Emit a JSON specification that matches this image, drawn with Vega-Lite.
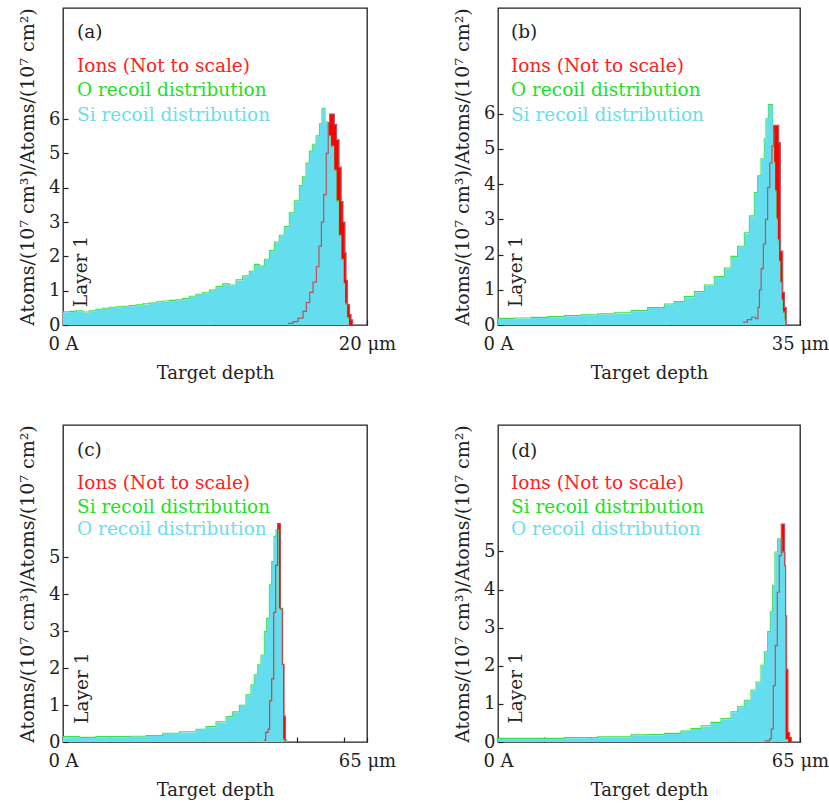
{
  "$schema": "https://vega.github.io/schema/vega-lite/v6.json",
  "background": "white",
  "padding": {"left": 17, "top": 7, "right": 0, "bottom": 0},
  "bounds": "flush",
  "columns": 2,
  "spacing": {"row": 100, "column": 131},
  "config": {
    "font": "DejaVu Serif",
    "view": {"stroke": "#222", "strokeWidth": 1.3},
    "axis": {
      "domain": false, "grid": false, "tickSize": -5, "tickColor": "#222", "tickWidth": 1.2,
      "labelFont": "DejaVu Serif", "titleFont": "DejaVu Serif", "labelFontSize": 18, "titleFontSize": 18,
      "titleFontWeight": "normal", "labelColor": "#222", "titleColor": "#222", "labelFlush": false, "labelOverlap": false
    },
    "axisX": {"labelPadding": 15, "titlePadding": 11},
    "axisY": {"labelPadding": 8, "titlePadding": 11, "labelAngle": 0, "titleFontSize": 19}
  },
  "datasets": {
    "a_rec": [
      {"x":0,"y":0.37},{"x":0.44,"y":0.38},{"x":0.88,"y":0.40},{"x":1.32,"y":0.36},{"x":1.75,"y":0.40},{"x":2.19,"y":0.44},
      {"x":2.63,"y":0.47},{"x":3.07,"y":0.50},{"x":3.51,"y":0.51},{"x":3.95,"y":0.53},{"x":4.39,"y":0.55},{"x":4.82,"y":0.57},
      {"x":5.26,"y":0.60},{"x":5.70,"y":0.62},{"x":6.14,"y":0.66},{"x":6.58,"y":0.68},{"x":7.02,"y":0.70},{"x":7.46,"y":0.72},
      {"x":7.89,"y":0.75},{"x":8.33,"y":0.82},{"x":8.77,"y":0.88},{"x":9.21,"y":0.92},{"x":9.65,"y":1.00},{"x":10.09,"y":1.10},
      {"x":10.53,"y":1.18},{"x":10.96,"y":1.15},{"x":11.40,"y":1.30},{"x":11.84,"y":1.42},{"x":12.28,"y":1.55},{"x":12.61,"y":1.75},
      {"x":12.94,"y":1.70},{"x":13.27,"y":1.90},{"x":13.60,"y":2.15},{"x":13.93,"y":2.40},{"x":14.25,"y":2.60},{"x":14.58,"y":2.85},
      {"x":14.91,"y":3.25},{"x":15.24,"y":3.60},{"x":15.57,"y":4.05},{"x":15.79,"y":4.30},{"x":16.01,"y":4.70},{"x":16.23,"y":5.05},
      {"x":16.45,"y":5.25},{"x":16.67,"y":5.50},{"x":16.89,"y":5.85},{"x":17.06,"y":6.30},{"x":17.25,"y":5.90},{"x":17.45,"y":5.50},
      {"x":17.62,"y":5.20},{"x":17.83,"y":4.50},{"x":17.98,"y":3.60},{"x":18.14,"y":2.60},{"x":18.30,"y":1.90},{"x":18.45,"y":1.20},
      {"x":18.55,"y":0.60},{"x":18.68,"y":0.20},{"x":18.80,"y":0}
    ],
    "a_ion": [
      {"x":14.80,"y":0.05},{"x":15.13,"y":0.10},{"x":15.46,"y":0.20},{"x":15.79,"y":0.40},{"x":16.01,"y":0.65},{"x":16.23,"y":0.95},
      {"x":16.45,"y":1.25},{"x":16.67,"y":1.70},{"x":16.84,"y":2.30},{"x":17.00,"y":3.00},{"x":17.15,"y":3.80},{"x":17.32,"y":5.00},
      {"x":17.45,"y":5.90},{"x":17.54,"y":6.15},{"x":17.85,"y":5.85},{"x":18.00,"y":5.40},{"x":18.16,"y":4.60},{"x":18.30,"y":3.60},
      {"x":18.42,"y":3.00},{"x":18.55,"y":2.10},{"x":18.62,"y":1.30},{"x":18.71,"y":0.60},{"x":18.85,"y":0.30},{"x":18.95,"y":0.15},
      {"x":19.06,"y":0}
    ],
    "b_rec": [
      {"x":0,"y":0.17},{"x":1.93,"y":0.18},{"x":3.86,"y":0.20},{"x":5.79,"y":0.22},{"x":7.73,"y":0.25},{"x":9.66,"y":0.27},
      {"x":11.59,"y":0.30},{"x":13.52,"y":0.33},{"x":15.45,"y":0.39},{"x":17.38,"y":0.48},{"x":19.32,"y":0.58},{"x":20.47,"y":0.65},
      {"x":21.63,"y":0.79},{"x":22.79,"y":0.93},{"x":23.95,"y":1.12},{"x":25.11,"y":1.36},{"x":26.27,"y":1.60},{"x":27.04,"y":1.93},
      {"x":27.81,"y":2.22},{"x":28.59,"y":2.60},{"x":29.17,"y":3.08},{"x":29.75,"y":3.74},{"x":30.13,"y":4.22},{"x":30.52,"y":4.70},
      {"x":30.90,"y":5.27},{"x":31.10,"y":5.84},{"x":31.37,"y":6.24},{"x":31.84,"y":5.50},{"x":31.98,"y":4.60},{"x":32.10,"y":3.80},
      {"x":32.25,"y":3.00},{"x":32.40,"y":2.40},{"x":32.55,"y":1.80},{"x":32.70,"y":1.20},{"x":32.85,"y":0.70},{"x":33.00,"y":0.35},
      {"x":33.20,"y":0.12},{"x":33.30,"y":0}
    ],
    "b_ion": [
      {"x":28.36,"y":0.08},{"x":28.90,"y":0.15},{"x":29.40,"y":0.22},{"x":29.85,"y":0.18},{"x":30.13,"y":0.50},{"x":30.30,"y":1.00},
      {"x":30.50,"y":1.60},{"x":30.75,"y":2.30},{"x":31.00,"y":3.00},{"x":31.25,"y":3.90},{"x":31.50,"y":4.60},{"x":31.75,"y":5.08},
      {"x":31.95,"y":5.67},{"x":32.53,"y":5.18},{"x":32.72,"y":2.10},{"x":33.00,"y":0.93},{"x":33.20,"y":0.50},{"x":33.40,"y":0}
    ],
    "c_rec": [
      {"x":0,"y":0.13},{"x":3.56,"y":0.11},{"x":7.13,"y":0.13},{"x":10.69,"y":0.13},{"x":14.26,"y":0.14},{"x":17.82,"y":0.16},
      {"x":21.38,"y":0.22},{"x":24.95,"y":0.26},{"x":28.51,"y":0.33},{"x":30.65,"y":0.40},{"x":32.79,"y":0.53},{"x":34.93,"y":0.67},
      {"x":36.35,"y":0.80},{"x":37.78,"y":0.98},{"x":39.20,"y":1.26},{"x":40.27,"y":1.53},{"x":40.98,"y":1.80},{"x":41.70,"y":2.07},
      {"x":42.41,"y":2.34},{"x":43.12,"y":2.97},{"x":43.62,"y":3.33},{"x":44.19,"y":4.24},{"x":44.69,"y":4.87},{"x":45.19,"y":5.55},
      {"x":45.62,"y":5.73},{"x":46.12,"y":3.60},{"x":47.04,"y":0.05},{"x":47.90,"y":0}
    ],
    "c_ion": [
      {"x":42.98,"y":0.05},{"x":43.34,"y":0.26},{"x":43.83,"y":0.35},{"x":44.19,"y":1.12},{"x":44.62,"y":1.71},{"x":45.05,"y":3.51},
      {"x":45.47,"y":4.78},{"x":45.90,"y":5.91},{"x":46.47,"y":3.60},{"x":46.90,"y":2.10},{"x":47.26,"y":0.70},{"x":47.54,"y":0}
    ],
    "d_rec": [
      {"x":0,"y":0.08},{"x":7.17,"y":0.08},{"x":14.35,"y":0.10},{"x":21.52,"y":0.12},{"x":28.69,"y":0.17},{"x":32.28,"y":0.18},
      {"x":35.87,"y":0.21},{"x":39.45,"y":0.27},{"x":41.61,"y":0.34},{"x":43.76,"y":0.41},{"x":45.91,"y":0.50},{"x":48.06,"y":0.60},
      {"x":50.22,"y":0.78},{"x":51.65,"y":0.91},{"x":53.08,"y":1.08},{"x":54.52,"y":1.35},{"x":55.60,"y":1.56},{"x":56.67,"y":2.00},
      {"x":57.39,"y":2.35},{"x":58.11,"y":2.88},{"x":58.68,"y":3.40},{"x":59.18,"y":4.10},{"x":59.68,"y":4.97},{"x":60.26,"y":5.32},
      {"x":61.12,"y":4.97},{"x":61.84,"y":0.05},{"x":62.41,"y":0}
    ],
    "d_ion": [
      {"x":57.39,"y":0.03},{"x":58.46,"y":0.08},{"x":58.82,"y":0.34},{"x":59.25,"y":1.48},{"x":59.68,"y":2.53},{"x":60.11,"y":3.93},
      {"x":60.55,"y":4.89},{"x":60.98,"y":5.72},{"x":61.69,"y":4.62},{"x":61.91,"y":3.31},{"x":62.12,"y":1.91},{"x":62.41,"y":0.25},
      {"x":62.77,"y":0.12},{"x":63.13,"y":0}
    ]
  },
  "concat": [
    {
      "width": 304, "height": 317,
      "layer": [
        {"data": {"name": "a_ion"}, "mark": {"type": "area", "interpolate": "step-after", "color": "#ff0000"},
         "encoding": {
           "x": {"field": "x", "type": "quantitative", "scale": {"domain": [0, 20], "nice": false},
                 "axis": {"values": [0, 10, 20], "labelExpr": "datum.value == 0 ? '0 A' : datum.value == 20 ? '20 μm' : ''", "title": "Target depth"}},
           "y": {"field": "y", "type": "quantitative", "scale": {"domain": [0, 9.24], "nice": false},
                 "axis": {"values": [0, 1, 2, 3, 4, 5, 6], "title": "Atoms/(10⁷ cm³)/Atoms/(10⁷ cm²)"}}}},
        {"data": {"name": "a_rec"}, "mark": {"type": "line", "interpolate": "step-after", "color": "#3de04a", "strokeWidth": 1.1, "xOffset": -0.3, "yOffset": -0.6}, "encoding": {"x": {"field": "x", "type": "quantitative"}, "y": {"field": "y", "type": "quantitative"}}},
        {"data": {"name": "a_rec"}, "mark": {"type": "area", "interpolate": "step-after", "color": "#64ddee", "opacity": 1}, "encoding": {"x": {"field": "x", "type": "quantitative"}, "y": {"field": "y", "type": "quantitative"}}},
        {"data": {"name": "a_ion"}, "mark": {"type": "line", "interpolate": "step-after", "color": "#b8545c", "strokeWidth": 1.2}, "encoding": {"x": {"field": "x", "type": "quantitative"}, "y": {"field": "y", "type": "quantitative"}}},
        {"data": {"values": [{}]}, "mark": {"type": "text", "align": "left", "baseline": "middle", "fontSize": 18.5, "color": "#222"}, "encoding": {"x": {"datum": 0.92}, "y": {"datum": 8.54}, "text": {"value": "(a)"}}},
        {"data": {"values": [{}]}, "mark": {"type": "text", "align": "left", "baseline": "middle", "fontSize": 18.5, "color": "#ff2020"}, "encoding": {"x": {"datum": 0.92}, "y": {"datum": 7.55}, "text": {"value": "Ions (Not to scale)"}}},
        {"data": {"values": [{}]}, "mark": {"type": "text", "align": "left", "baseline": "middle", "fontSize": 18.5, "color": "#22e022"}, "encoding": {"x": {"datum": 0.92}, "y": {"datum": 6.85}, "text": {"value": "O recoil distribution"}}},
        {"data": {"values": [{}]}, "mark": {"type": "text", "align": "left", "baseline": "middle", "fontSize": 18.5, "color": "#6edcee"}, "encoding": {"x": {"datum": 0.92}, "y": {"datum": 6.12}, "text": {"value": "Si recoil distribution"}}},
        {"data": {"values": [{}]}, "mark": {"type": "text", "angle": 270, "align": "center", "baseline": "middle", "fontSize": 18.5, "color": "#222"}, "encoding": {"x": {"datum": 1.18}, "y": {"datum": 1.56}, "text": {"value": "Layer 1"}}}
      ]
    },
    {
      "width": 302, "height": 317,
      "layer": [
        {"data": {"name": "b_ion"}, "mark": {"type": "area", "interpolate": "step-after", "color": "#ff0000"},
         "encoding": {
           "x": {"field": "x", "type": "quantitative", "scale": {"domain": [0, 35], "nice": false},
                 "axis": {"values": [0, 10, 20, 30, 35], "labelExpr": "datum.value == 0 ? '0 A' : datum.value == 35 ? '35 μm' : ''", "title": "Target depth"}},
           "y": {"field": "y", "type": "quantitative", "scale": {"domain": [0, 9.0], "nice": false},
                 "axis": {"values": [0, 1, 2, 3, 4, 5, 6], "title": "Atoms/(10⁷ cm³)/Atoms/(10⁷ cm²)"}}}},
        {"data": {"name": "b_rec"}, "mark": {"type": "line", "interpolate": "step-after", "color": "#3de04a", "strokeWidth": 1.1, "xOffset": -0.3, "yOffset": -0.6}, "encoding": {"x": {"field": "x", "type": "quantitative"}, "y": {"field": "y", "type": "quantitative"}}},
        {"data": {"name": "b_rec"}, "mark": {"type": "area", "interpolate": "step-after", "color": "#64ddee"}, "encoding": {"x": {"field": "x", "type": "quantitative"}, "y": {"field": "y", "type": "quantitative"}}},
        {"data": {"name": "b_ion"}, "mark": {"type": "line", "interpolate": "step-after", "color": "#b8545c", "strokeWidth": 1.2}, "encoding": {"x": {"field": "x", "type": "quantitative"}, "y": {"field": "y", "type": "quantitative"}}},
        {"data": {"values": [{}]}, "mark": {"type": "text", "align": "left", "baseline": "middle", "fontSize": 18.5, "color": "#222"}, "encoding": {"x": {"datum": 1.5}, "y": {"datum": 8.32}, "text": {"value": "(b)"}}},
        {"data": {"values": [{}]}, "mark": {"type": "text", "align": "left", "baseline": "middle", "fontSize": 18.5, "color": "#ff2020"}, "encoding": {"x": {"datum": 1.5}, "y": {"datum": 7.36}, "text": {"value": "Ions (Not to scale)"}}},
        {"data": {"values": [{}]}, "mark": {"type": "text", "align": "left", "baseline": "middle", "fontSize": 18.5, "color": "#22e022"}, "encoding": {"x": {"datum": 1.5}, "y": {"datum": 6.68}, "text": {"value": "O recoil distribution"}}},
        {"data": {"values": [{}]}, "mark": {"type": "text", "align": "left", "baseline": "middle", "fontSize": 18.5, "color": "#6edcee"}, "encoding": {"x": {"datum": 1.5}, "y": {"datum": 5.97}, "text": {"value": "Si recoil distribution"}}},
        {"data": {"values": [{}]}, "mark": {"type": "text", "angle": 270, "align": "center", "baseline": "middle", "fontSize": 18.5, "color": "#222"}, "encoding": {"x": {"datum": 2.09}, "y": {"datum": 1.52}, "text": {"value": "Layer 1"}}}
      ]
    },
    {
      "width": 304, "height": 317,
      "layer": [
        {"data": {"name": "c_ion"}, "mark": {"type": "area", "interpolate": "step-after", "color": "#ff0000"},
         "encoding": {
           "x": {"field": "x", "type": "quantitative", "scale": {"domain": [0, 65], "nice": false},
                 "axis": {"values": [0, 10, 20, 30, 40, 50, 60, 65], "labelExpr": "datum.value == 0 ? '0 A' : datum.value == 65 ? '65 μm' : ''", "title": "Target depth"}},
           "y": {"field": "y", "type": "quantitative", "scale": {"domain": [0, 8.58], "nice": false},
                 "axis": {"values": [0, 1, 2, 3, 4, 5], "title": "Atoms/(10⁷ cm³)/Atoms/(10⁷ cm²)"}}}},
        {"data": {"name": "c_rec"}, "mark": {"type": "line", "interpolate": "step-after", "color": "#3de04a", "strokeWidth": 1.1, "xOffset": -0.3, "yOffset": -0.6}, "encoding": {"x": {"field": "x", "type": "quantitative"}, "y": {"field": "y", "type": "quantitative"}}},
        {"data": {"name": "c_rec"}, "mark": {"type": "area", "interpolate": "step-after", "color": "#64ddee"}, "encoding": {"x": {"field": "x", "type": "quantitative"}, "y": {"field": "y", "type": "quantitative"}}},
        {"data": {"name": "c_ion"}, "mark": {"type": "line", "interpolate": "step-after", "color": "#c84444", "strokeWidth": 1.2}, "encoding": {"x": {"field": "x", "type": "quantitative"}, "y": {"field": "y", "type": "quantitative"}}},
        {"data": {"values": [{}]}, "mark": {"type": "text", "align": "left", "baseline": "middle", "fontSize": 18.5, "color": "#222"}, "encoding": {"x": {"datum": 3.0}, "y": {"datum": 7.89}, "text": {"value": "(c)"}}},
        {"data": {"values": [{}]}, "mark": {"type": "text", "align": "left", "baseline": "middle", "fontSize": 18.5, "color": "#ff2020"}, "encoding": {"x": {"datum": 3.0}, "y": {"datum": 7.02}, "text": {"value": "Ions (Not to scale)"}}},
        {"data": {"values": [{}]}, "mark": {"type": "text", "align": "left", "baseline": "middle", "fontSize": 18.5, "color": "#22e022"}, "encoding": {"x": {"datum": 3.0}, "y": {"datum": 6.37}, "text": {"value": "Si recoil distribution"}}},
        {"data": {"values": [{}]}, "mark": {"type": "text", "align": "left", "baseline": "middle", "fontSize": 18.5, "color": "#6edcee"}, "encoding": {"x": {"datum": 3.0}, "y": {"datum": 5.77}, "text": {"value": "O recoil distribution"}}},
        {"data": {"values": [{}]}, "mark": {"type": "text", "angle": 270, "align": "center", "baseline": "middle", "fontSize": 18.5, "color": "#222"}, "encoding": {"x": {"datum": 4.06}, "y": {"datum": 1.46}, "text": {"value": "Layer 1"}}}
      ]
    },
    {
      "width": 302, "height": 317,
      "layer": [
        {"data": {"name": "d_ion"}, "mark": {"type": "area", "interpolate": "step-after", "color": "#ff0000"},
         "encoding": {
           "x": {"field": "x", "type": "quantitative", "scale": {"domain": [0, 65], "nice": false},
                 "axis": {"values": [0, 10, 20, 30, 40, 50, 60, 65], "labelExpr": "datum.value == 0 ? '0 A' : datum.value == 65 ? '65 μm' : ''", "title": "Target depth"}},
           "y": {"field": "y", "type": "quantitative", "scale": {"domain": [0, 8.32], "nice": false},
                 "axis": {"values": [0, 1, 2, 3, 4, 5], "title": "Atoms/(10⁷ cm³)/Atoms/(10⁷ cm²)"}}}},
        {"data": {"name": "d_rec"}, "mark": {"type": "line", "interpolate": "step-after", "color": "#3de04a", "strokeWidth": 1.1, "xOffset": -0.3, "yOffset": -0.6}, "encoding": {"x": {"field": "x", "type": "quantitative"}, "y": {"field": "y", "type": "quantitative"}}},
        {"data": {"name": "d_rec"}, "mark": {"type": "area", "interpolate": "step-after", "color": "#64ddee"}, "encoding": {"x": {"field": "x", "type": "quantitative"}, "y": {"field": "y", "type": "quantitative"}}},
        {"data": {"name": "d_ion"}, "mark": {"type": "line", "interpolate": "step-after", "color": "#b8545c", "strokeWidth": 1.2}, "encoding": {"x": {"field": "x", "type": "quantitative"}, "y": {"field": "y", "type": "quantitative"}}},
        {"data": {"values": [{}]}, "mark": {"type": "text", "align": "left", "baseline": "middle", "fontSize": 18.5, "color": "#222"}, "encoding": {"x": {"datum": 2.8}, "y": {"datum": 7.64}, "text": {"value": "(d)"}}},
        {"data": {"values": [{}]}, "mark": {"type": "text", "align": "left", "baseline": "middle", "fontSize": 18.5, "color": "#ff2020"}, "encoding": {"x": {"datum": 2.8}, "y": {"datum": 6.80}, "text": {"value": "Ions (Not to scale)"}}},
        {"data": {"values": [{}]}, "mark": {"type": "text", "align": "left", "baseline": "middle", "fontSize": 18.5, "color": "#22e022"}, "encoding": {"x": {"datum": 2.8}, "y": {"datum": 6.17}, "text": {"value": "Si recoil distribution"}}},
        {"data": {"values": [{}]}, "mark": {"type": "text", "align": "left", "baseline": "middle", "fontSize": 18.5, "color": "#6edcee"}, "encoding": {"x": {"datum": 2.8}, "y": {"datum": 5.59}, "text": {"value": "O recoil distribution"}}},
        {"data": {"values": [{}]}, "mark": {"type": "text", "angle": 270, "align": "center", "baseline": "middle", "fontSize": 18.5, "color": "#222"}, "encoding": {"x": {"datum": 3.87}, "y": {"datum": 1.42}, "text": {"value": "Layer 1"}}}
      ]
    }
  ]
}
